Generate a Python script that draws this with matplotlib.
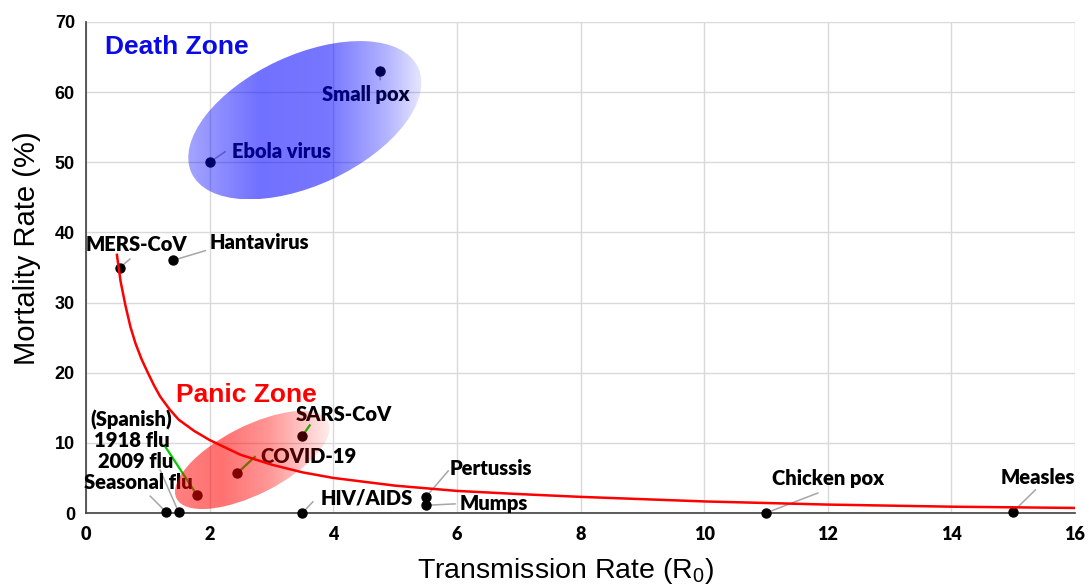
import numpy as np
import matplotlib
matplotlib.use("Agg")
import matplotlib.pyplot as plt
import matplotlib.transforms as mtransforms
from matplotlib.patches import Ellipse

plt.rcParams["mathtext.fontset"] = "custom"
plt.rcParams["mathtext.rm"] = "Liberation Sans"
plt.rcParams["mathtext.it"] = "Liberation Sans"

# ---------------- data ----------------
diseases = ["Small pox", "Ebola virus", "MERS-CoV", "Hantavirus", "(Spanish)\n1918 flu",
            "COVID-19", "SARS-CoV", "Seasonal flu", "2009 flu", "HIV/AIDS",
            "Pertussis", "Mumps", "Chicken pox", "Measles"]
r0 = [4.75, 2.0, 0.55, 1.4, 1.8, 2.45, 3.5, 1.3, 1.5, 3.5, 5.5, 5.5, 11.0, 15.0]
mortality = [63, 50, 35, 36, 2.5, 5.7, 11, 0.1, 0.1, 0.0, 2.3, 1.1, 0.0, 0.2]

# trend curve
curve_x = [0.5, 0.56, 0.64, 0.72, 0.8, 0.9, 1.0, 1.1, 1.2, 1.35, 1.5, 1.75, 2.0, 2.5, 3.0,
           3.5, 4.0, 5.0, 6.0, 7.0, 8.0, 10.0, 12.0, 14.0, 16.0]
curve_y = [36.8, 33.0, 29.5, 26.5, 24.2, 21.9, 20.0, 18.2, 16.6, 14.8, 13.3, 11.7, 10.4, 8.3, 6.9,
           5.8, 5.0, 3.9, 3.15, 2.7, 2.3, 1.65, 1.2, 0.9, 0.72]

x_ticks = [0, 2, 4, 6, 8, 10, 12, 14, 16]
y_ticks = [0, 10, 20, 30, 40, 50, 60, 70]

x_title = "Transmission Rate (R$_0$)"
y_title = "Mortality Rate (%)"

# ---------------- layout (label anchors / leader ends) ----------------
label_layout = {
    "Small pox":            dict(pos=(4.53, 59.7), ha="center", lead=(4.76, 61.8), col="#a6a6a6"),
    "Ebola virus":          dict(pos=(2.36, 51.5), ha="left", lead=(2.25, 51.5), col="#a6a6a6"),
    "MERS-CoV":             dict(pos=(0.81, 38.3), ha="center", lead=(0.71, 36.2), col="#a6a6a6"),
    "Hantavirus":           dict(pos=(2.0, 38.6), ha="left", lead=(1.93, 37.4), col="#a6a6a6"),
    "(Spanish)\n1918 flu":  dict(pos=(0.74, 11.8), ha="center", lead=(1.28, 9.5), col="#00cc00"),
    "COVID-19":             dict(pos=(3.6, 8.0), ha="center", lead=(2.73, 8.0), col="#00cc00"),
    "SARS-CoV":             dict(pos=(4.17, 14.1), ha="center", lead=(3.62, 12.5), col="#00cc00"),
    "Seasonal flu":         dict(pos=(0.85, 4.3), ha="center", lead=(1.04, 2.4), col="#a6a6a6"),
    "2009 flu":             dict(pos=(0.81, 7.4), ha="center", lead=(1.2, 6.1), col="#a6a6a6"),
    "HIV/AIDS":             dict(pos=(4.55, 2.1), ha="center", lead=(3.67, 1.6), col="#a6a6a6"),
    "Pertussis":            dict(pos=(6.55, 6.3), ha="center", lead=(5.86, 6.0), col="#a6a6a6"),
    "Mumps":                dict(pos=(6.6, 1.3), ha="center", lead=(5.97, 1.3), col="#a6a6a6"),
    "Chicken pox":          dict(pos=(12.0, 4.9), ha="center", lead=(11.84, 2.85), col="#a6a6a6"),
    "Measles":              dict(pos=(15.4, 5.1), ha="center", lead=(15.36, 3.3), col="#a6a6a6"),
}

W, H, DPI = 1089, 587, 100
fig = plt.figure(figsize=(W / DPI, H / DPI), dpi=DPI)
ax = fig.add_axes([86 / W, 1 - 513 / H, (1075 - 86) / W, (513 - 22) / H])
ax.set_xlim(0, 16)
ax.set_ylim(0, 70)
ax.set_xticks(x_ticks)
ax.set_yticks(y_ticks)
ax.grid(True, color="#d9d9d9", lw=1.0, zorder=0)
ax.set_axisbelow(True)
for s in ["top", "right"]:
    ax.spines[s].set_visible(False)
for s in ["left", "bottom"]:
    ax.spines[s].set_color("#404040")
    ax.spines[s].set_linewidth(1.2)
ax.tick_params(length=0)
ax.set_xticklabels([str(v) for v in x_ticks], fontfamily="Lato", fontweight="heavy", fontsize=13)
ax.set_yticklabels([str(v) for v in y_ticks], fontfamily="Liberation Sans", fontweight="bold", fontsize=13)
ax.tick_params(axis="x", pad=9)
ax.tick_params(axis="y", pad=8)

# axis titles
fig.text(566 / W, 1 - 578 / H, x_title, fontfamily="Liberation Sans", fontsize=20.5,
         ha="center", va="baseline")
fig.text(35 / W, 1 - 248 / H, y_title, fontfamily="Liberation Sans", fontsize=21,
         ha="center", va="baseline", rotation=90, rotation_mode="anchor")

# points
ax.scatter(r0, mortality, s=42, color="black", zorder=3, clip_on=False)

# labels and leaders
for name, x, y in zip(diseases, r0, mortality):
    L = label_layout[name]
    ax.plot([x, L["lead"][0]], [y, L["lead"][1]], color=L["col"],
            lw=1.6 if L["col"] == "#00cc00" else 1.1, zorder=2.5, clip_on=False)
    ax.text(L["pos"][0], L["pos"][1], name, ha=L["ha"], va="center",
            fontfamily="Lato", fontweight="heavy", fontsize=14.5, color="black",
            zorder=4, linespacing=1.05)

# curve
ax.plot(curve_x, curve_y, color="red", lw=1.8, zorder=7)

# zone titles
ax.text(0.31, 66.5, "Death Zone", color="#0a0ae6", fontfamily="Liberation Sans",
        fontweight="bold", fontsize=19, va="center", ha="left", zorder=4)
ax.text(1.46, 16.8, "Panic Zone", color="red", fontfamily="Liberation Sans",
        fontweight="bold", fontsize=19, va="center", ha="left", zorder=4)

# gradient ellipses
def px_per_unit():
    p0 = ax.transData.transform((0, 0))
    p1 = ax.transData.transform((1, 1))
    return p1[0] - p0[0], p1[1] - p0[1]

def grad_ellipse(cx, cy, a_px, b_px, angle, rgb, t_pts, alpha_pts):
    trans = fig.dpi_scale_trans + mtransforms.ScaledTranslation(cx, cy, ax.transData)
    ell = Ellipse((0, 0), 2 * a_px / DPI, 2 * b_px / DPI, angle=angle,
                  transform=trans, facecolor="none", edgecolor="none")
    ax.add_patch(ell)
    th = np.deg2rad(angle)
    hw = np.sqrt((a_px * np.cos(th)) ** 2 + (b_px * np.sin(th)) ** 2)
    hh = np.sqrt((a_px * np.sin(th)) ** 2 + (b_px * np.cos(th)) ** 2)
    sx, sy = px_per_unit()
    ext = [cx - hw / sx, cx + hw / sx, cy - hh / sy, cy + hh / sy]
    t = np.linspace(0, 1, 300)
    al = np.interp(t, t_pts, alpha_pts)
    img = np.zeros((2, 300, 4))
    img[..., 0] = rgb[0]
    img[..., 1] = rgb[1]
    img[..., 2] = rgb[2]
    img[..., 3] = al[None, :]
    im = ax.imshow(img, extent=ext, aspect="auto", origin="lower", zorder=5,
                   interpolation="bilinear")
    im.set_clip_path(ell)

grad_ellipse(3.54, 56.0, 125, 65, 25, (0.0, 0.0, 1.0),
             [0, 0.3, 0.6, 0.85, 1.0], [0.36, 0.56, 0.54, 0.3, 0.1])
grad_ellipse(2.69, 7.56, 85, 34, 27, (1.0, 0.0, 0.0),
             [0, 0.3, 0.6, 1.0], [0.5, 0.56, 0.42, 0.08])

ax.set_xlim(0, 16)
ax.set_ylim(0, 70)

fig.savefig("out.png", dpi=DPI)
